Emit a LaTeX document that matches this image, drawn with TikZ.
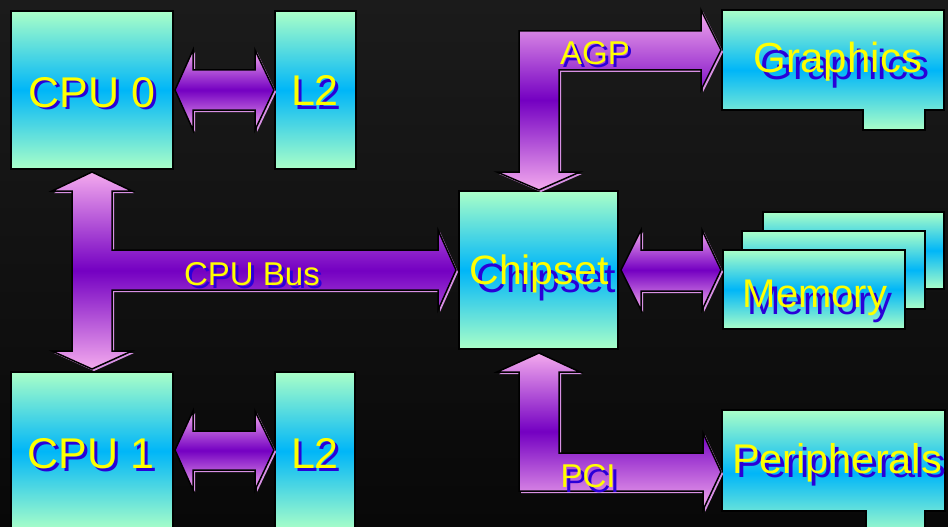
\documentclass[tikz,border=0pt]{standalone}
\usepackage{fontspec}
\setmainfont{Liberation Sans}
\usetikzlibrary{calc}
\definecolor{bgtop}{HTML}{1B1B1B}
\definecolor{bgbot}{HTML}{080808}
\definecolor{mint}{HTML}{AAFFC8}
\definecolor{skyc}{HTML}{00B6F8}
\definecolor{apink}{HTML}{F4AAEE}
\definecolor{aviolet}{HTML}{7400C2}
\definecolor{ashade}{HTML}{D890E4}
\definecolor{yellowt}{HTML}{FFFF00}
\definecolor{bluet}{HTML}{2A00D8}
\tikzset{
  boxshape/.style={draw=black, line width=2pt, line join=miter, top color=mint, bottom color=mint, middle color=skyc},
  barrow/.style={draw=black, line width=1.5pt, line join=miter, top color=apink, bottom color=apink, middle color=aviolet},
  ashadow/.style={fill=ashade, shift={(2,2)}},
  txt/.style={text=yellowt, anchor=base, inner sep=0pt},
  txtsh/.style={text=bluet, anchor=base, inner sep=0pt},
}
\newcommand\shlabel[7]{%
  \node[txtsh, font=\fontsize{#6}{#6}\selectfont] at (#2+#4,#3+#5) {#7};
  \node[txt, font=\fontsize{#6}{#6}\selectfont] (#1) at (#2,#3) {#7};}
\newcommand\blockarrow[1]{\fill[ashadow] #1; \path[barrow] #1;}
\begin{document}
\begin{tikzpicture}[x=1pt,y=-1pt]
\useasboundingbox (0,0) rectangle (948,527);
\clip (0,0) rectangle (948,527);
\fill[top color=bgtop, bottom color=bgbot] (0,0) rectangle (948,527);

% boxes
\path[boxshape] (11,11) rectangle (173,169);
\path[boxshape] (275,11) rectangle (356,169);
\path[boxshape] (11,372) rectangle (173,530);
\path[boxshape] (275,372) rectangle (355,530);
\path[boxshape] (459,191) rectangle (618,349);
\path[boxshape] (722,10) -- (944,10) -- (944,110) -- (925,110) -- (925,130) -- (863,130) -- (863,110) -- (722,110) -- cycle;
\path[boxshape] (763,212) rectangle (944,289);
\path[boxshape] (742,231) rectangle (925,309);
\path[boxshape] (723,250) rectangle (905,329);
\path[boxshape] (722,410) -- (945,410) -- (945,511) -- (925,511) -- (925,536) -- (866,536) -- (866,511) -- (722,511) -- cycle;

% block arrows
\blockarrow{(175,90) -- (193,50) -- (193,70) -- (255,70) -- (255,50) -- (274,90) -- (255,130) -- (255,110) -- (193,110) -- (193,130) -- cycle}
\blockarrow{(175,450) -- (193,411) -- (193,431) -- (255,431) -- (255,411) -- (274,450) -- (255,490) -- (255,470) -- (193,470) -- (193,490) -- cycle}
\blockarrow{(92,172) -- (132,191) -- (112,191) -- (112,250) -- (438,250) -- (438,230) -- (456,270) -- (438,310) -- (438,290) -- (112,290) -- (112,351) -- (132,351) -- (92,369) -- (52,351) -- (72,351) -- (72,191) -- (52,191) -- cycle}
\blockarrow{(519,31) -- (701,31) -- (701,10) -- (721,50) -- (701,90) -- (701,70) -- (559,70) -- (559,172) -- (580,172) -- (539,190) -- (497,172) -- (519,172) -- cycle}
\blockarrow{(539,353) -- (580,372) -- (559,372) -- (559,453) -- (703,453) -- (703,433) -- (721,472) -- (703,510) -- (703,491) -- (519,491) -- (519,372) -- (497,372) -- cycle}
\blockarrow{(621,270) -- (641,230) -- (641,250) -- (702,250) -- (702,230) -- (721,270) -- (702,310) -- (702,291) -- (641,291) -- (641,310) -- cycle}

% labels
\shlabel{cpu0}{92}{107}{3}{3}{43}{CPU 0}
\shlabel{l2a}{315}{106}{3}{3}{43}{L2}
\shlabel{cpu1}{91}{468}{3}{3}{43}{CPU 1}
\shlabel{l2b}{315}{468}{3}{3}{43}{L2}
\shlabel{chipset}{539}{284}{7}{8}{41}{Chipset}
\shlabel{graphics}{838}{73}{7}{7}{42}{Graphics}
\shlabel{memory}{815}{307}{5}{7}{40}{Memory}
\shlabel{periph}{837}{473}{4}{4}{41.5}{Peripherals}
\shlabel{agp}{595}{65}{3}{3}{33}{AGP}
\shlabel{cpubus}{252}{285}{3}{3}{33}{CPU Bus}
\shlabel{pci}{588}{487}{4}{5}{33}{PCI}
\end{tikzpicture}
\end{document}
